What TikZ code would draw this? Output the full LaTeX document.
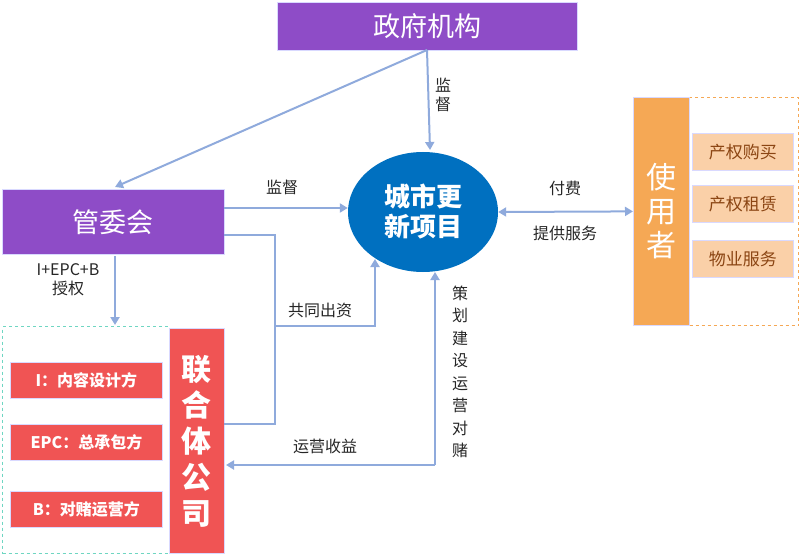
\documentclass[tikz,border=0pt]{standalone}
\usepackage{fontspec}
\setmainfont{Noto Sans CJK SC}
\usetikzlibrary{shapes.geometric,arrows.meta}
\definecolor{pur}{HTML}{8E4CC7}
\definecolor{blu}{HTML}{0070C0}
\definecolor{org}{HTML}{F5A855}
\definecolor{lorg}{HTML}{FAD0A8}
\definecolor{brn}{HTML}{8B4513}
\definecolor{rd}{HTML}{F05454}
\definecolor{tl}{HTML}{6FD6C2}
\definecolor{arr}{HTML}{8FAADC}
\begin{document}
\begin{tikzpicture}[x=1pt,y=-1pt,
 box/.style={draw=white!85!blue,line width=0.8pt,inner sep=0pt,anchor=north west},
 ar/.style={draw=arr,line width=2pt,-{Triangle[length=8pt,width=9pt]}},
 ln/.style={draw=arr,line width=2pt},
 lab/.style={font=\fontsize{16}{19}\selectfont,black!85}]
\useasboundingbox (0,0) rectangle (800,556);
\node[box,fill=pur,minimum width=300,minimum height=48,text=white,font=\fontsize{27}{30}\selectfont] (gov) at (277,2) {政府机构};
\node[box,fill=pur,minimum width=222,minimum height=65,text=white,font=\fontsize{27}{30}\selectfont] (gwh) at (2,189) {管委会};
\node[ellipse,fill=blu,minimum width=150,minimum height=120,text=white,font=\bfseries\fontsize{26}{30}\selectfont,align=center] (prj) at (423,212) {城市更\\新项目};
\node[draw=org,dashed,line width=1.3pt,minimum width=109,minimum height=228,anchor=north west,inner sep=0pt] (ud) at (689,97) {};
\node[box,fill=org,minimum width=56,minimum height=228,text=white,font=\fontsize{30}{34}\selectfont,align=center] (user) at (633,97) {使\\用\\者};
\foreach \n/\y/\t in {u1/133/产权购买,u2/185/产权租赁,u3/240/物业服务}
 \node[box,fill=lorg,minimum width=101,minimum height=37,text=brn,font=\fontsize{17}{19}\selectfont] (\n) at (692,\y) {\t};
\node[draw=tl,dashed,line width=1.3pt,minimum width=167,minimum height=227,anchor=north west,inner sep=0pt] (cd) at (2,326) {};
\node[box,fill=rd,minimum width=55,minimum height=225,text=white,font=\bfseries\fontsize{30}{36}\selectfont,align=center] (lh) at (169,328) {联\\合\\体\\公\\司};
\foreach \n/\y/\t in {c1/362/I：内容设计方,c2/424/EPC：总承包方,c3/491/B：对赌运营方}
 \node[box,fill=rd,minimum width=152,minimum height=36,text=white,font=\bfseries\fontsize{16}{18}\selectfont] (\n) at (10,\y) {\t};
% arrows
\coordinate (g0) at (427,50);
\draw[ar] (g0) -- (115,187);
\draw[ar] (g0) -- (430,150);
\node[lab,align=center] (l1) at (443,95) {监\\督};
\draw[ar] (224,208) -- (prj.west|-224,208);
\node[lab] (l2) at (282,187) {监督};
\coordinate (a1) at (275,235); \coordinate (a2) at (275,424); \coordinate (a3) at (275,326);
\draw[ln] (224,235) -- (a1) -- (a2) -- (224,424);
\draw[ar] (a3) -- (375,326) -- (375,259);
\node[lab] (l3) at (320,310) {共同出资};
\draw[ar] (435,465) -- (435,272);
\draw[ar] (435,465) -- (226,465);
\node[lab] (l4) at (325,446) {运营收益};
\node[lab,align=center,font=\fontsize{16}{22.5}\selectfont] (l5) at (460,372) {策\\划\\建\\设\\运\\营\\对\\赌};
\draw[ar] (115,256) -- (115,325);
\node[lab,align=center] (l6) at (68,280) {I+EPC+B\\授权};
\draw[draw=arr,line width=2pt,{Triangle[length=8pt,width=9pt]}-{Triangle[length=8pt,width=9pt]}] (prj.east) -- (user.west);
\node[lab] (l7) at (565,188) {付费};
\node[lab] (l8) at (565,233) {提供服务};
\end{tikzpicture}
\end{document}
